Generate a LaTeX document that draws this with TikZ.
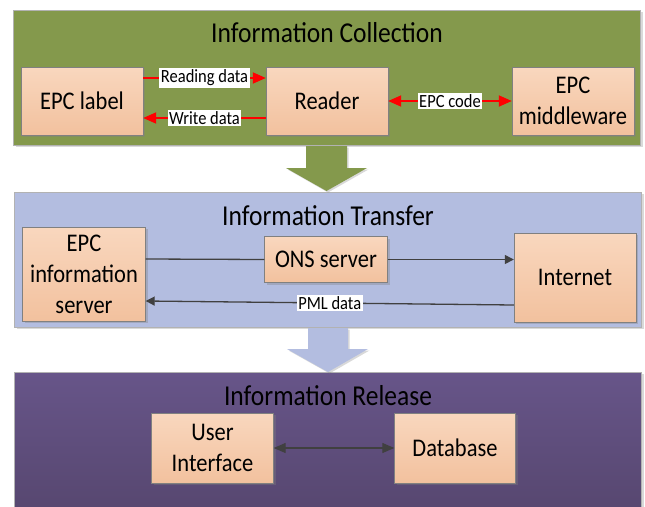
\documentclass[tikz,border=0pt]{standalone}
\usepackage{fontspec}
\setmainfont{Carlito}
\usetikzlibrary{arrows.meta,positioning,shadows}

\definecolor{collectgreen}{HTML}{84994C}
\definecolor{transferblue}{HTML}{B3BDE0}
\definecolor{releasetop}{HTML}{675589}
\definecolor{releasebot}{HTML}{574770}
\definecolor{boxtop}{HTML}{F9D7BE}
\definecolor{boxbot}{HTML}{F2C19E}
\definecolor{linegray}{HTML}{404040}

% testo leggermente allungato in verticale
\newcommand{\tall}[1]{\scalebox{1}[1.13]{#1}}

\begin{document}
\begin{tikzpicture}[x=1pt, y=-1pt,
    panel/.style={draw=gray!60, inner sep=0pt, minimum width=627pt, minimum height=135pt,
        drop shadow={shadow xshift=2pt, shadow yshift=-2pt, opacity=.3}},
    title/.style={font=\fontsize{25.5}{30}\selectfont},
    box/.style={draw=gray, inner sep=0pt, align=center, top color=boxtop, bottom color=boxbot,
        font=\fontsize{22.5}{31}\selectfont,
        drop shadow={shadow xshift=2pt, shadow yshift=-2pt, opacity=.35}},
    tag/.style={fill=white, text=black, inner sep=1.5pt, font=\fontsize{16.5}{18}\selectfont},
    redline/.style={red, line width=1.8pt},
    redhead/.style={-{Triangle[length=13pt,width=11pt]}},
    redboth/.style={{Triangle[length=13pt,width=11pt]}-{Triangle[length=13pt,width=11pt]}},
    grayline/.style={linegray, line width=1.3pt},
    grayhead/.style={-{Triangle[length=9pt,width=9pt]}},
    grayboth/.style={{Triangle[length=12pt,width=10pt]}-{Triangle[length=12pt,width=10pt]}}]
    \useasboundingbox (0,0) rectangle (645,506);

    % Bande: raccolta, trasferimento, rilascio
    \node[panel, fill=collectgreen] (collect) at (327,77.5) {};
    \node[panel, fill=transferblue] (transfer) at (328,259.5) {};
    \node[panel, minimum height=138pt, top color=releasetop, bottom color=releasebot] (release) at (328,441) {};

    % Titoli delle bande
    \node[title] (collecttitle) at (327,33) {\tall{Information Collection}};
    \node[title] (transfertitle) at (328,216) {\tall{Information Transfer}};
    \node[title] (releasetitle) at (328,396) {\tall{Information Release}};

    % Frecce a blocco tra le bande
    \fill[collectgreen, drop shadow={shadow xshift=1.5pt, shadow yshift=-1.5pt, opacity=.3}]
        (306,146) -- (347,146) -- (347,168) -- (367,168) -- (326.5,191) -- (286,168) -- (306,168) -- cycle;
    \fill[transferblue, drop shadow={shadow xshift=1.5pt, shadow yshift=-1.5pt, opacity=.3}]
        (308,328) -- (348,328) -- (348,349) -- (368,349) -- (328,372) -- (287,349) -- (308,349) -- cycle;

    % Blocchi della raccolta
    \node[box, minimum width=122pt, minimum height=68pt] (label) at (82,101) {\tall{EPC label}};
    \node[box, minimum width=122pt, minimum height=68pt] (reader) at (327,101) {\tall{Reader}};
    \node[box, minimum width=122pt, minimum height=68pt] (mware) at (573,101) {\tall{EPC}\\\tall{middleware}};

    % Blocchi del trasferimento
    \node[box, minimum width=123pt, minimum height=94pt] (infosrv) at (84,274) {\tall{EPC}\\\tall{information}\\\tall{server}};
    \node[box, minimum width=123pt, minimum height=46pt] (ons) at (326,259.5) {\tall{ONS server}};
    \node[box, minimum width=122pt, minimum height=89pt] (internet) at (575,277.5) {\tall{Internet}};

    % Blocchi del rilascio
    \node[box, minimum width=122pt, minimum height=70pt] (ui) at (212.5,448) {\tall{User}\\\tall{Interface}};
    \node[box, minimum width=121pt, minimum height=70pt] (db) at (455,448) {\tall{Database}};

    % Collegamenti etichetta <-> lettore <-> middleware
    \draw[redline, redhead] ([yshift=23pt]label.east) -- node[tag] {\tall{Reading data}} ([yshift=23pt]reader.west);
    \draw[redline, redhead] ([yshift=-17pt]reader.west) -- node[tag] {\tall{Write data}} ([yshift=-17pt]label.east);
    \draw[redline, redboth] (reader) -- node[tag] {\tall{EPC code}} (mware);

    % Collegamenti del trasferimento
    \draw[grayline] ([yshift=15pt]infosrv.east) -- (ons.west);
    \draw[grayline, grayhead] (ons.east) -- ([yshift=18pt]internet.west);
    \draw[grayline, grayhead] ([yshift=-27.5pt]internet.west) -- node[tag] {\tall{PML data}} ([yshift=-27pt]infosrv.east);

    % Collegamento interfaccia <-> database
    \draw[grayline, grayboth] (ui) -- (db);
\end{tikzpicture}
\end{document}
